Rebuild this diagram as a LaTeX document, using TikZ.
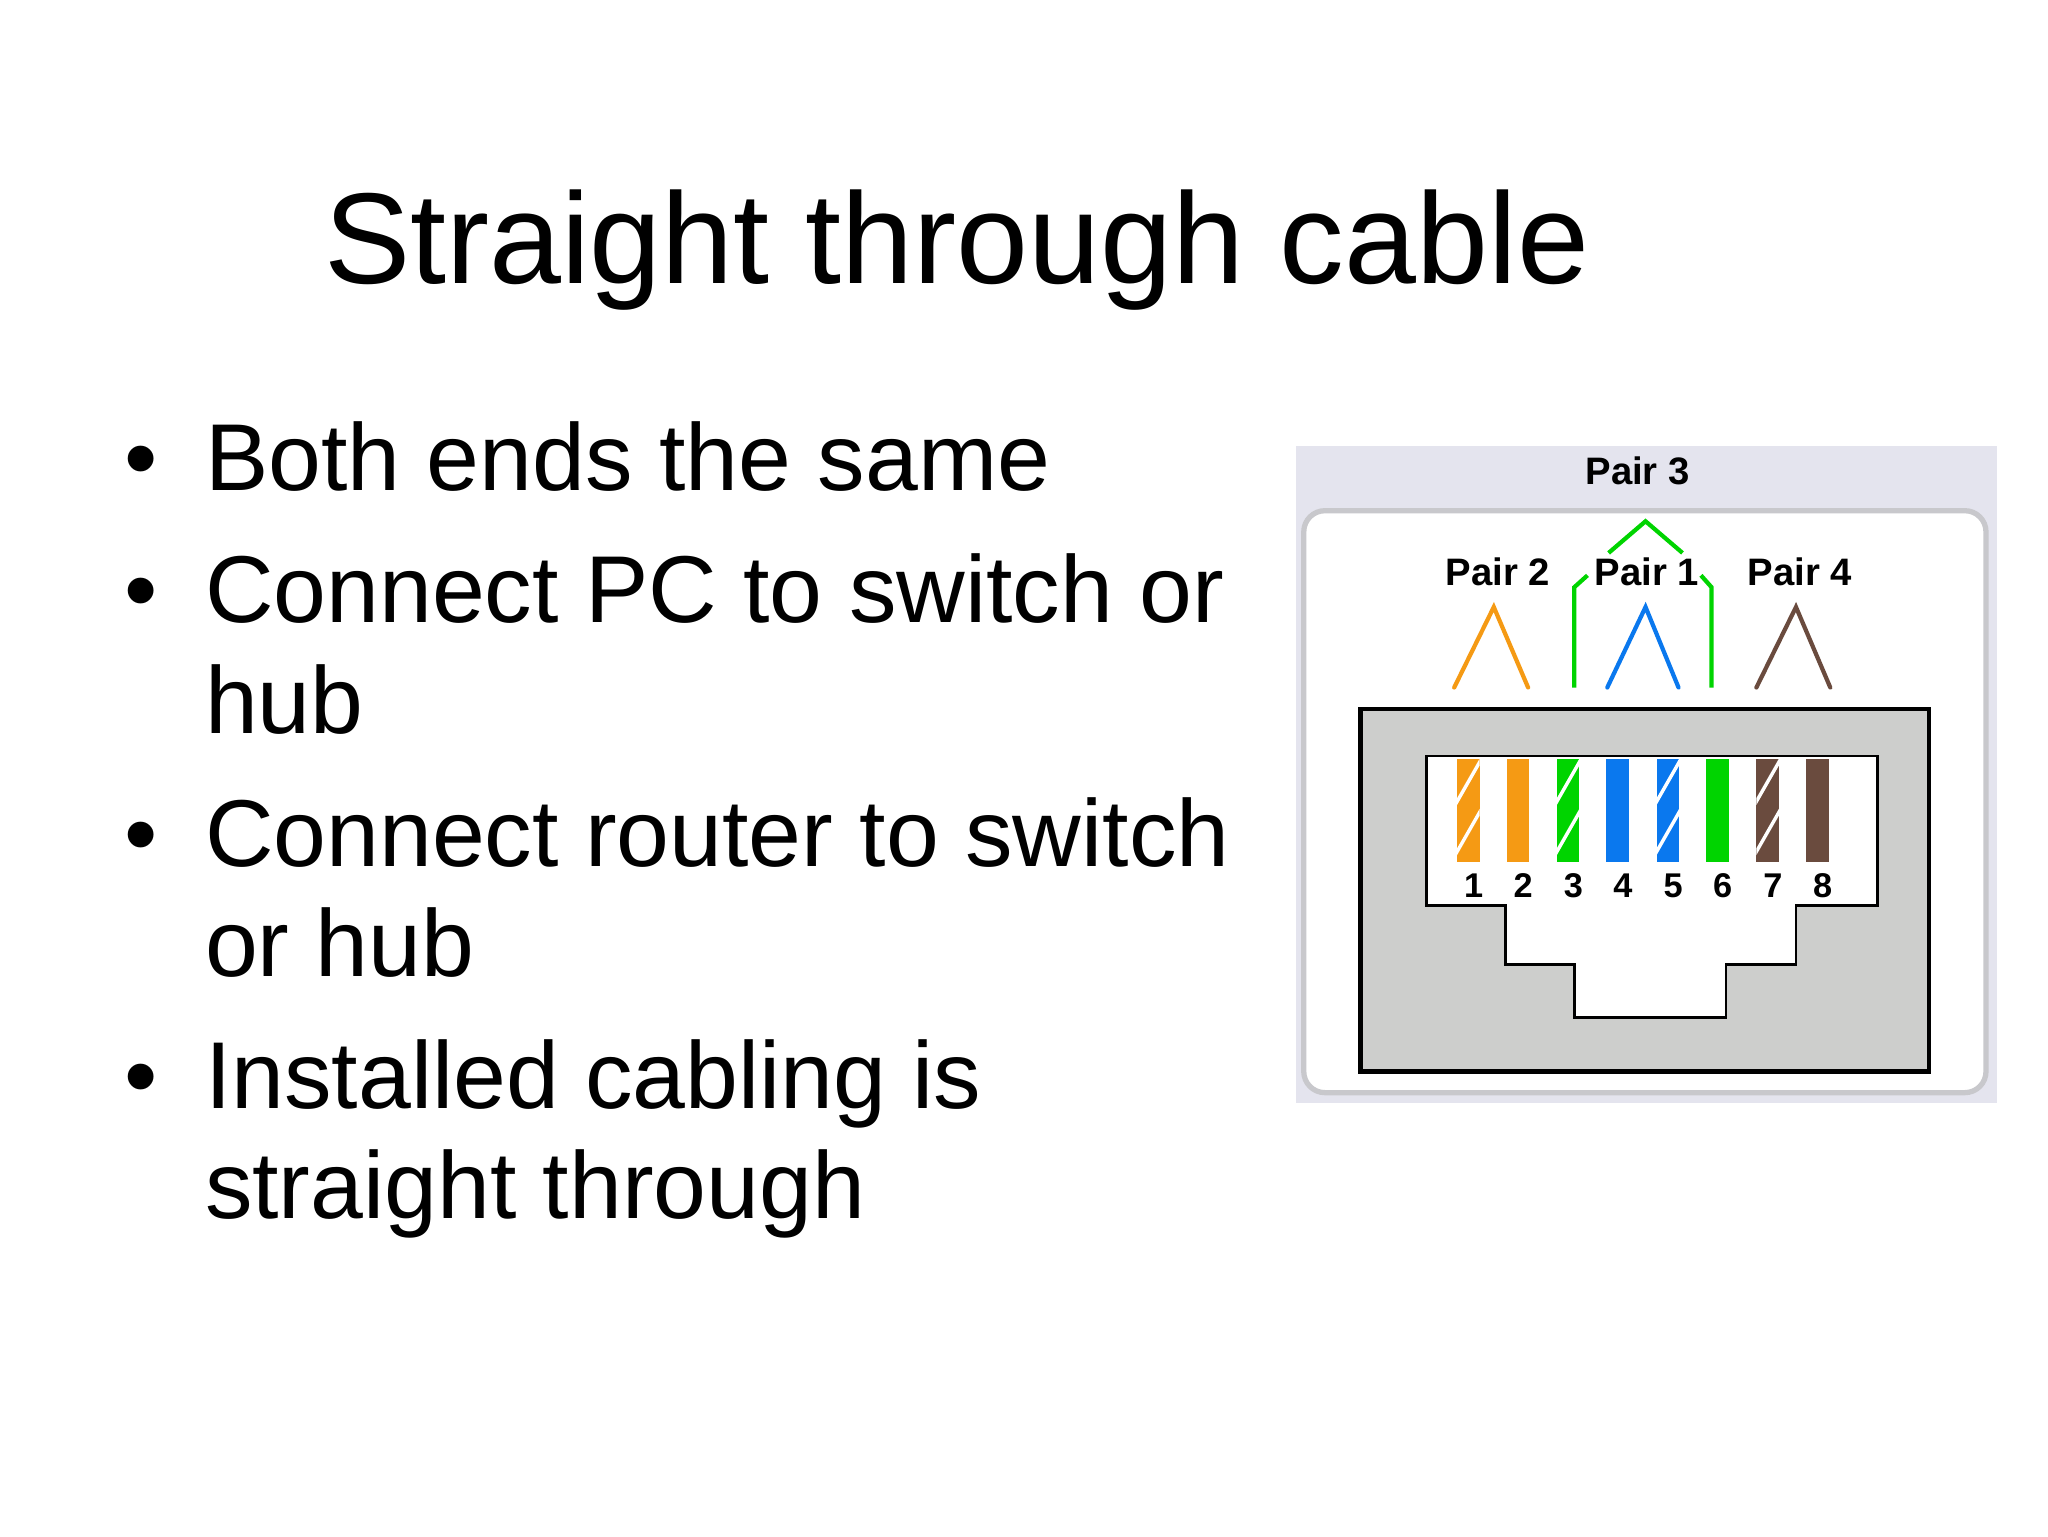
\documentclass[tikz,border=0pt]{standalone}
\usepackage{fontspec}
\setmainfont{Liberation Sans}
\begin{document}
\begin{tikzpicture}[x=0.5pt,y=-0.5pt,
  bul/.style={anchor=base west,font=\fontsize{36}{40}\selectfont,inner sep=0pt},
  dot/.style={anchor=base,font=\fontsize{36}{40}\selectfont,inner sep=0pt},
  pl/.style={font=\fontsize{14.5}{16}\selectfont\bfseries,inner sep=1pt},
  num/.style={font=\fontsize{13}{14}\selectfont\bfseries,inner sep=0pt},
  wirel/.style={line width=1.6pt,line cap=round},
  blk/.style={draw=black,line width=1pt}]
\definecolor{wor}{HTML}{F59A14}
\definecolor{wgr}{HTML}{00D400}
\definecolor{wbl}{HTML}{0A78EE}
\definecolor{wbr}{HTML}{6A4B3E}
\definecolor{panel}{HTML}{E4E4EE}
\definecolor{jack}{HTML}{CDCECC}
\useasboundingbox (0,0) rectangle (1552,1164);
\fill[white] (0,0) rectangle (1552,1164);
\node[anchor=base,font=\fontsize{49}{54}\selectfont,inner sep=0pt] (title) at (725,215) {Straight through cable};
\foreach \n/\y/\t/\d in {b1/372/Both ends the same/1, b2/472/Connect PC to switch or/1, b2b/556/hub/0, b3/657/Connect router to switch/1, b3b/740/or hub/0, b4/840/Installed cabling is/1, b4b/923/straight through/0}{
  \node[bul] (\n) at (155,\y) {\t};
  \ifnum\d=1 \node[dot] (d\n) at (107,\y) {\textbullet};\fi
}
% panel
\fill[panel] (982,338) rectangle (1513,836);
\draw[draw={rgb,255:red,200;green,200;blue,204},line width=2pt,fill=white,rounded corners=8pt] (988,387) rectangle (1505,828);
\node[pl] (p3) at (1241,357) {Pair 3};
\node[pl] (p2) at (1135,433) {Pair 2};
\node[pl] (p1) at (1248,433) {Pair 1};
\node[pl] (p4) at (1364,433) {Pair 4};
\draw[wirel,wor] (1102,521) -- (1132,460) -- (1158,521);
\draw[wirel,wbl] (1218,521) -- (1247,460) -- (1272,521);
\draw[wirel,wbr] (1331,521) -- (1361,460) -- (1387,521);
\draw[wirel,wgr,line cap=butt] (1193,521) -- (1193,445) -- (1203,436);
\draw[wirel,wgr,line cap=butt] (1219,419) -- (1247,395) -- (1275,419);
\draw[wirel,wgr,line cap=butt] (1289,436) -- (1297,445) -- (1297,521);
% jack
\draw[fill=jack,draw=black,line width=1.6pt] (1031,537) rectangle (1462,812);
\draw[fill=white,blk] (1081,573) -- (1423,573) -- (1423,686) -- (1361,686) -- (1361,731) -- (1308,731) -- (1308,771) -- (1193,771) -- (1193,731) -- (1141,731) -- (1141,686) -- (1081,686) -- cycle;
\foreach \i/\x/\c/\s in {1/1112.7/wor/1,2/1150.3/wor/0,3/1188.3/wgr/1,4/1225.9/wbl/0,5/1263.9/wbl/1,6/1301.5/wgr/0,7/1339.5/wbr/1,8/1377.2/wbr/0}{
  \fill[\c] (\x-8.5,575) rectangle (\x+8.5,653);
  \ifnum\s=1
   \begin{scope}
    \clip (\x-8.5,575) rectangle (\x+8.5,653);
    \draw[white,line width=1.3pt] (\x-10,610) -- (\x+10,575);
    \draw[white,line width=1.3pt] (\x-10,648) -- (\x+10,613);
   \end{scope}
  \fi
  \node[num] (n\i) at (\x+4,671) {\i};
}
\end{tikzpicture}
\end{document}
